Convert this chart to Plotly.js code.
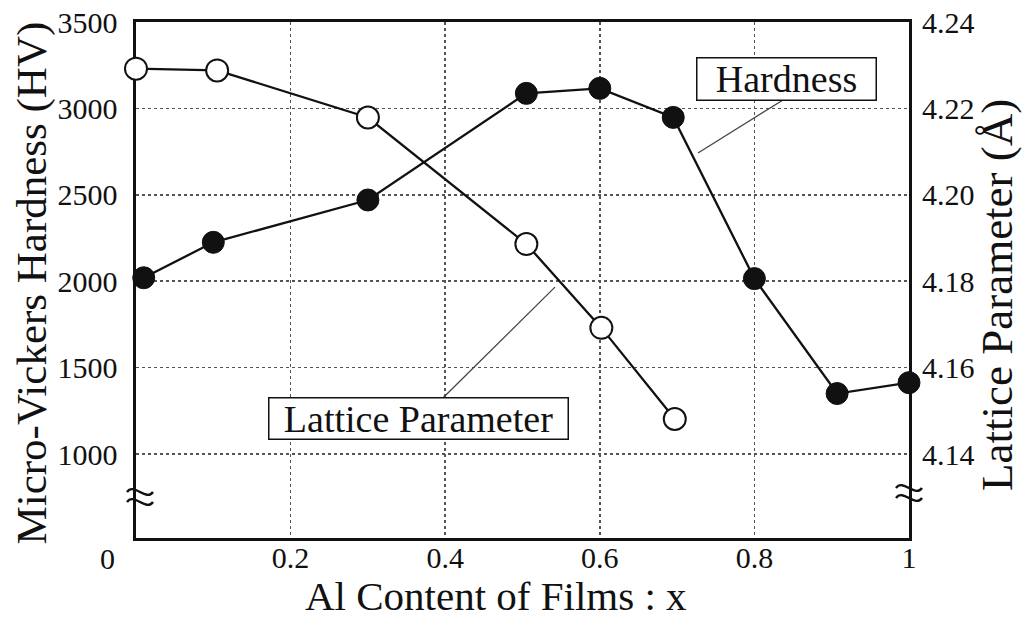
<!DOCTYPE html>
<html>
<head>
<meta charset="utf-8">
<script src="https://cdn.plot.ly/plotly-3.0.1.min.js"></script>
<style>
  html, body { margin: 0; padding: 0; background: #fff; }
  #chart { width: 1026px; height: 619px; }
</style>
</head>
<body>
<div id="chart"></div>
<script>
// Al content of the (Ti,Al)N films and the measured properties
const hardnessX = [0.01, 0.10, 0.30, 0.505, 0.60, 0.695, 0.80, 0.907, 1.0];
const hardnessHV = [2020, 2225, 2470, 3087, 3116, 2948, 2015, 1350, 1413];

const latticeX = [0.0, 0.105, 0.30, 0.505, 0.602, 0.697];
const latticeA = [4.2292, 4.2288, 4.2179, 4.1886, 4.1692, 4.1481];

const hvTicks = [1000, 1500, 2000, 2500, 3000, 3500];
const aTicks = [4.14, 4.16, 4.18, 4.20, 4.22, 4.24];
const xTicks = [0.2, 0.4, 0.6, 0.8, 1];
const xTickText = ['0.2', '0.4', '0.6', '0.8', '1'];

// both vertical scales share the same frame: 1000 HV <-> 4.14 Å, 3500 HV <-> 4.24 Å
const hvRange = [514, 3500];
const toA = hv => 4.14 + (hv - 1000) * (0.10 / 2500);
const aRange = hvRange.map(toA);

const serif = 'Liberation Serif, Times New Roman, serif';
const ink = '#111';

// a pair of wavy strokes marking the broken vertical axes (pixel offsets around a paper anchor)
const wave = (dx, dy) =>
  `M ${dx - 13} ${dy} C ${dx - 6} ${dy + 10}, ${dx + 6} ${dy - 10}, ${dx + 13} ${dy}`;
function breakMark(xp, yp, dx) {
  const base = { type: 'path', xref: 'paper', yref: 'paper', xsizemode: 'pixel', ysizemode: 'pixel',
    xanchor: xp, yanchor: yp, line: { color: ink, width: 2.4 } };
  return [
    Object.assign({}, base, { path: wave(dx, 5) }),
    Object.assign({}, base, { path: wave(dx, -5) })
  ];
}

const traces = [
  {
    x: hardnessX, y: hardnessHV, yaxis: 'y', type: 'scatter', mode: 'lines+markers',
    name: 'Hardness', cliponaxis: false,
    line: { color: ink, width: 2.3 },
    marker: { symbol: 'circle', size: 22, color: ink, line: { color: ink, width: 1 } }
  },
  {
    x: latticeX, y: latticeA, yaxis: 'y2', type: 'scatter', mode: 'lines+markers',
    name: 'Lattice Parameter', cliponaxis: false,
    line: { color: ink, width: 2.3 },
    marker: { symbol: 'circle', size: 22, color: '#fff', line: { color: ink, width: 2 } }
  }
];

const layout = {
  width: 1026, height: 619,
  margin: { l: 136, r: 117, t: 22, b: 81 },
  paper_bgcolor: '#fff', plot_bgcolor: '#fff',
  showlegend: false,
  font: { family: serif, color: ink },
  xaxis: {
    range: [0, 1], tickvals: xTicks, ticktext: xTickText,
    showgrid: true, gridcolor: '#555', griddash: 'dot', gridwidth: 1.5,
    zeroline: false, showline: true, mirror: true, linecolor: ink, linewidth: 2.6,
    ticks: '', ticklabelstandoff: -9, tickfont: { family: serif, size: 30, color: ink },
    layer: 'below traces', fixedrange: true
  },
  yaxis: {
    range: hvRange, tickvals: hvTicks,
    showgrid: true, gridcolor: '#555', griddash: 'dot', gridwidth: 1.5,
    zeroline: false, showline: true, mirror: true, linecolor: ink, linewidth: 2.6,
    ticks: '', ticklabelstandoff: 10, tickfont: { family: serif, size: 30, color: ink },
    layer: 'below traces', fixedrange: true
  },
  yaxis2: {
    overlaying: 'y', side: 'right', range: aRange, tickvals: aTicks,
    tickformat: '.2f', showgrid: false, zeroline: false, showline: false,
    ticks: '', ticklabelstandoff: 12, tickfont: { family: serif, size: 30, color: ink },
    fixedrange: true
  },
  shapes: [
    // leader lines from the labels to their curves
    { type: 'line', xref: 'x', yref: 'y', x0: 0.837, y0: 3049, x1: 0.727, y1: 2742,
      line: { color: '#444', width: 1.3 } },
    { type: 'line', xref: 'x', yref: 'y', x0: 0.397, y0: 1324, x1: 0.542, y1: 1966,
      line: { color: '#444', width: 1.3 } }
  ].concat(breakMark(0, 0.0795, 4), breakMark(1, 0.0872, 0)),
  annotations: [
    { text: 'Micro-Vickers Hardness (HV)', xref: 'paper', yref: 'paper',
      x: -0.134, y: 0.494, textangle: -90, showarrow: false,
      xanchor: 'center', yanchor: 'middle', font: { family: serif, size: 43, color: ink } },
    { text: 'Lattice Parameter (Å)', xref: 'paper', yref: 'paper',
      x: 1.1145, y: 0.47, textangle: -90, showarrow: false,
      xanchor: 'center', yanchor: 'middle', font: { family: serif, size: 45, color: ink } },
    { text: 'Al Content of Films : x', xref: 'paper', yref: 'paper',
      x: 0.466, y: -0.112, showarrow: false,
      xanchor: 'center', yanchor: 'middle', font: { family: serif, size: 41, color: ink } },
    { text: '0', xref: 'paper', yref: 'paper', x: -0.0375, y: -0.039, showarrow: false,
      xanchor: 'center', yanchor: 'middle', font: { family: serif, size: 30, color: ink } },
    // curve labels
    { text: 'Hardness', xref: 'x', yref: 'y', x: 0.841, y: 3173, showarrow: false,
      xanchor: 'center', yanchor: 'middle', width: 176, height: 39, borderpad: 1,
      bordercolor: ink, borderwidth: 1.5, bgcolor: '#fff',
      font: { family: serif, size: 38, color: ink } },
    { text: 'Lattice Parameter', xref: 'x', yref: 'y', x: 0.365, y: 1203, showarrow: false,
      xanchor: 'center', yanchor: 'middle', width: 296, height: 38, borderpad: 1,
      bordercolor: ink, borderwidth: 1.5, bgcolor: '#fff',
      font: { family: serif, size: 38, color: ink } }
  ]
};

Plotly.newPlot('chart', traces, layout, { staticPlot: true, displayModeBar: false });
</script>
</body>
</html>
